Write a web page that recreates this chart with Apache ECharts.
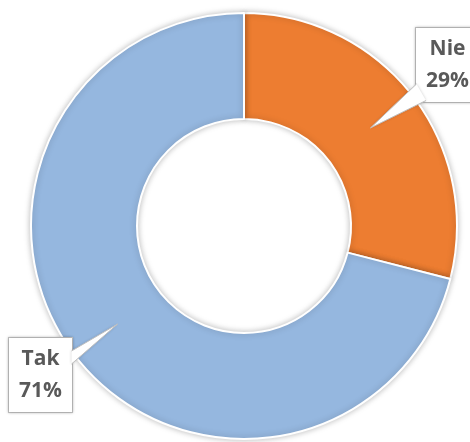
<!DOCTYPE html>
<html>
<head>
<meta charset="utf-8">
<script src="https://cdn.jsdelivr.net/npm/echarts@6/dist/echarts.min.js"></script>
<style>html,body{margin:0;padding:0;background:#fff;}#c{width:470px;height:442px;}</style>
</head>
<body>
<div id="c"></div>
<script>
const categories = ['Nie', 'Tak'];
const values = [29, 71];
const colors = ['#ED7D31', '#95B7DF'];

// layout constants (not data)
const CX = 244, CY = 226, R_IN = 107, R_OUT = 213, R_TIP = 160;
const BOX_W = 63;
const labelBoxes = [
  { x: 416, y: 28, base: [[416.5, 84], [426, 100.5]] },
  { x: 9, y: 338, base: [[71.5, 351], [71.5, 364]] }
];

const total = values.reduce((a, b) => a + b, 0);
let cum = 0;
const tips = values.map(v => {
  const mid = (90 - 360 * (cum + v / 2) / total) * Math.PI / 180;
  cum += v;
  return [CX + R_TIP * Math.cos(mid), CY - R_TIP * Math.sin(mid)];
});

const pointerGraphics = [];
tips.forEach((t, i) => {
  const b = labelBoxes[i].base;
  pointerGraphics.push({
    type: 'polygon', z: 10, silent: true,
    shape: { points: [b[0], t, b[1]] },
    style: { fill: '#fff', shadowBlur: 3, shadowColor: 'rgba(0,0,0,0.2)' }
  });
  pointerGraphics.push({
    type: 'polyline', z: 11, silent: true,
    shape: { points: [b[0], t, b[1]] },
    style: { stroke: '#BFBFBF', lineWidth: 1, fill: null }
  });
});

const chart = echarts.init(document.getElementById('c'));
chart.setOption({
  animation: false,
  graphic: pointerGraphics,
  series: [{
    type: 'pie',
    center: [CX, CY],
    radius: [R_IN, R_OUT],
    startAngle: 90,
    clockwise: true,
    data: categories.map((n, i) => ({ name: n, value: values[i], itemStyle: { color: colors[i] } })),
    itemStyle: {
      borderColor: '#fff',
      borderWidth: 2,
      shadowBlur: 6,
      shadowColor: 'rgba(0,0,0,0.25)'
    },
    label: {
      show: true,
      position: 'outside',
      alignTo: 'none',
      overflow: 'none',
      formatter: '{b}\n{d}%',
      color: '#595959',
      fontFamily: 'Open Sans, Liberation Sans, sans-serif',
      fontWeight: 'bold',
      fontSize: 21,
      lineHeight: 32,
      width: 45,
      align: 'center',
      backgroundColor: '#fff',
      borderColor: '#BFBFBF',
      borderWidth: 1,
      padding: [5, 9, 5, 9],
      shadowBlur: 3,
      shadowColor: 'rgba(0,0,0,0.2)'
    },
    labelLine: { show: false },
    labelLayout: function (p) {
      const s = labelBoxes[p.dataIndex];
      return { x: s.x + BOX_W / 2, y: s.y, align: 'center', verticalAlign: 'top' };
    },
    emphasis: { disabled: true }
  }]
});
</script>
</body>
</html>
